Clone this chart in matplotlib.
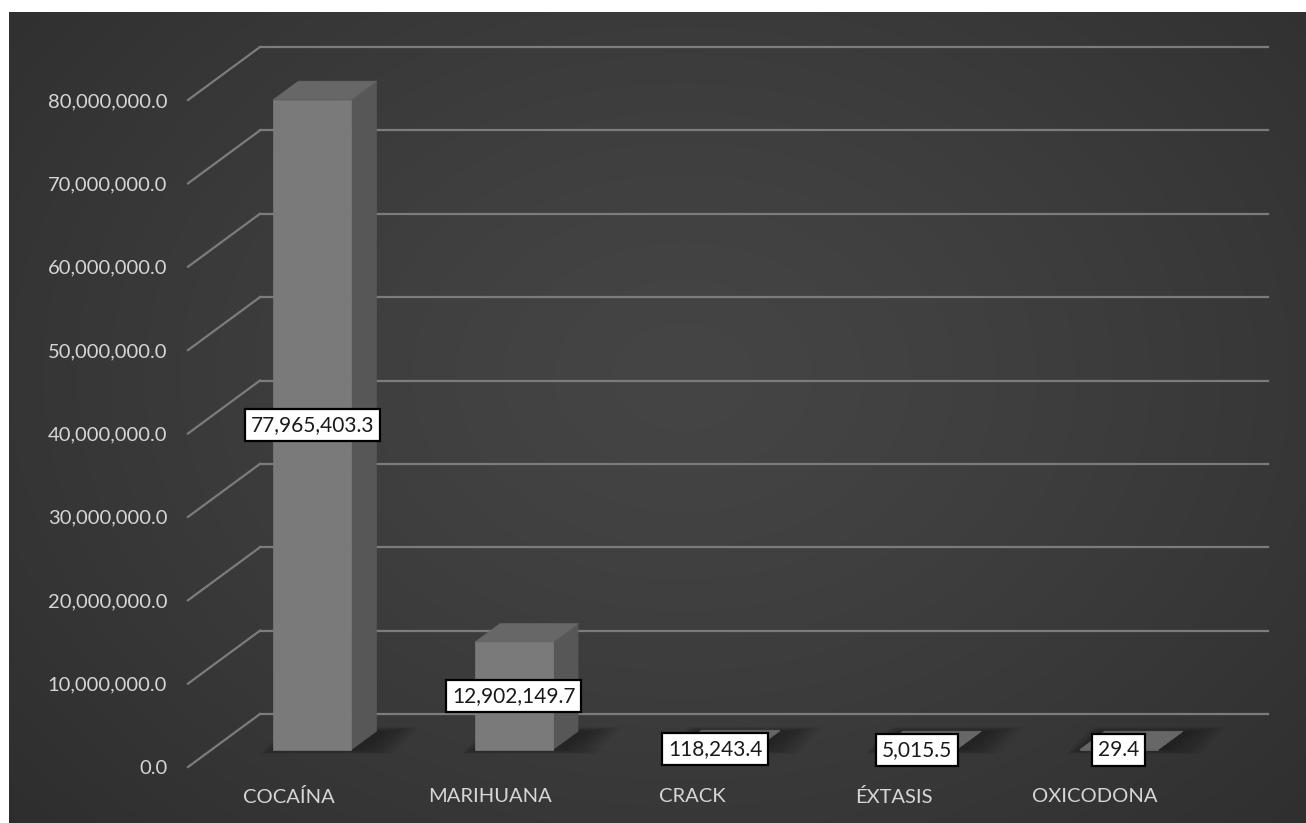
"""3D-style column chart of seized drug quantities, dark Excel look."""

import numpy as np
import matplotlib.pyplot as plt
from matplotlib.patches import Polygon

categories = ['COCAÍNA', 'MARIHUANA', 'CRACK', 'ÉXTASIS', 'OXICODONA']
values = [77965403.3, 12902149.7, 118243.4, 5015.5, 29.4]
y_ticks = [0, 10e6, 20e6, 30e6, 40e6, 50e6, 60e6, 70e6, 80e6]

plt.rcParams['font.family'] = ['Lato', 'DejaVu Sans']

W, H = 1306, 823
fig = plt.figure(figsize=(W / 100, H / 100), dpi=100)
fig.patch.set_facecolor('white')

# dark background with a soft radial highlight
bg = fig.add_axes([9 / W, 0, (W - 9) / W, (H - 12) / H])
bg.set_axis_off()
gx, gy = np.meshgrid(np.linspace(0, 1, 400), np.linspace(0, 1, 250))
r = np.sqrt(((gx - 0.52) / 0.75) ** 2 + ((gy - 0.45) / 0.9) ** 2)
shade = 0.27 - 0.10 * np.clip(r, 0, 1) ** 1.3
bg.imshow(np.dstack([shade] * 3), aspect='auto', extent=(0, 1, 0, 1),
          interpolation='bicubic')

# axes = front plane of the 3D box
ax = fig.add_axes([188 / W, 56 / H, 1008 / W, 667 / H])
ax.set_xlim(-0.5, len(categories) - 0.5)
ax.set_ylim(0, 80e6)
ax.patch.set_alpha(0)
for s in ax.spines.values():
    s.set_visible(False)

# depth vector of the wall, 72 x 53 pixels, in data units
p0 = ax.transData.transform((0, 0))
DX, DY = ax.transData.inverted().transform(p0 + np.array([72, 53]))


def shift(x, y, d):
    return x + d * DX, y + d * DY


grid_col = '#7c7c7c'
x0, x1 = ax.get_xlim()
for v in y_ticks:
    bx0, by0 = shift(x0, v, 1)
    bx1, by1 = shift(x1, v, 1)
    ax.plot([bx0, bx1], [by0, by1], color=grid_col, lw=1.6,
            clip_on=False, zorder=1)
    ax.plot([x0, bx0], [v, by0], color=grid_col, lw=1.6,
            clip_on=False, zorder=1)

bar_w = 0.387
d_front, d_back = 0.325, 0.675
for i, v in enumerate(values):
    fl, fb = shift(i - bar_w / 2, 0, d_front)
    fr, _ = shift(i + bar_w / 2, 0, d_front)
    bl, bb = shift(i - bar_w / 2, 0, d_back)
    br, _ = shift(i + bar_w / 2, 0, d_back)
    # soft shadow on the floor, a few growing layers
    for k in np.linspace(0.16, 0.0, 8):
        e = k * 3e6
        sh = [(fl - k * 0.4, fb - e), (fr + 0.05 + k, fb - e),
              (br + 0.05 + k, bb + e), (bl - k * 0.4, bb + e)]
        ax.add_patch(Polygon(sh, closed=True, fc='#161616', ec='none',
                             alpha=0.09, clip_on=False, zorder=2))
    side = [(fr, fb), (br, bb), (br, bb + v), (fr, fb + v)]
    top = [(fl, fb + v), (fr, fb + v), (br, bb + v), (bl, bb + v)]
    front = [(fl, fb), (fr, fb), (fr, fb + v), (fl, fb + v)]
    ax.add_patch(Polygon(side, closed=True, fc='#575757', ec='#575757',
                         lw=0.5, clip_on=False, zorder=3))
    ax.add_patch(Polygon(top, closed=True, fc='#676767', ec='#676767',
                         lw=0.5, clip_on=False, zorder=3))
    ax.add_patch(Polygon(front, closed=True, fc='#7a7a7a', ec='#7a7a7a',
                         lw=0.5, clip_on=False, zorder=4))
    ax.text(i + d_front * DX, fb + v / 2, f'{v:,.1f}', ha='center',
            va='center', fontsize=15, color='#1a1a1a', zorder=6,
            bbox=dict(boxstyle='square,pad=0.28', fc='white', ec='black',
                      lw=1.6))

ax.set_yticks(y_ticks)
ax.set_yticklabels([f'{t:,.1f}' for t in y_ticks])
ax.set_xticks(range(len(categories)))
ax.set_xticklabels(categories)
ax.tick_params(axis='y', length=0, pad=15, labelsize=14.5,
               labelcolor='#d6d6d6')
ax.tick_params(axis='x', length=0, pad=15, labelsize=14.5,
               labelcolor='#d6d6d6')

fig.savefig('out.png', dpi=100, facecolor=fig.get_facecolor())
